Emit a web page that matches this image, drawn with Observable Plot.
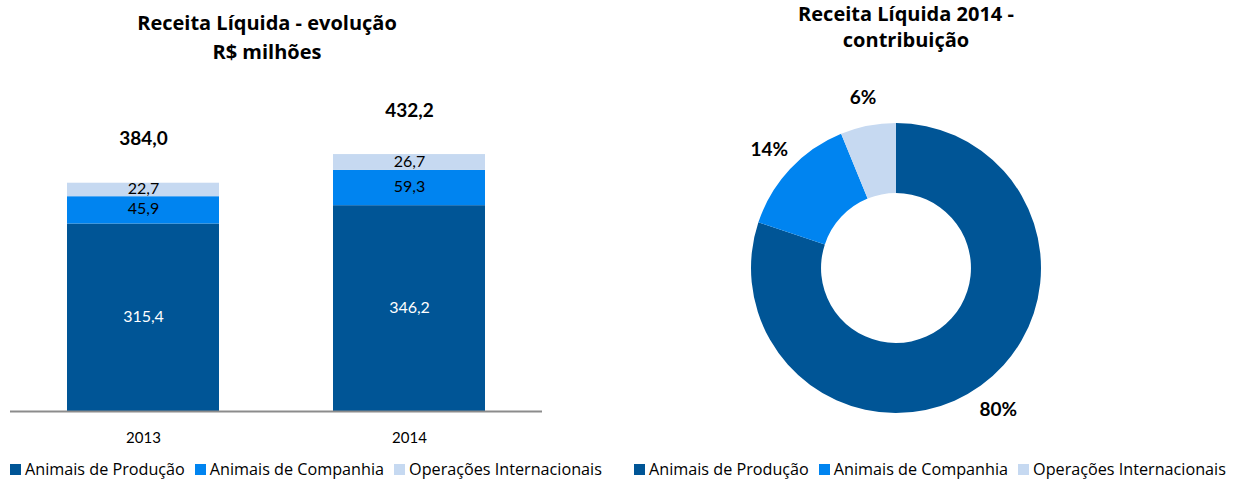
<!DOCTYPE html>
<html><head><meta charset="utf-8">
<script src="https://cdn.jsdelivr.net/npm/d3@7"></script>
<script src="https://cdn.jsdelivr.net/npm/@observablehq/plot@0.6"></script>
<style>
body{margin:0;background:#fff;font-family:Lato, sans-serif;}
#root{position:relative;width:1241px;height:479px;overflow:hidden;background:#fff}
.title{position:absolute;font-family:"Open Sans",sans-serif;font-weight:bold;font-size:20px;text-align:center;color:#000;width:400px}
.legend{position:absolute;display:flex;align-items:center;font-family:"Open Sans",sans-serif;font-size:16.2px;color:#000;white-space:nowrap;height:20px}
.legend .sw{width:11px;height:11px;margin-right:4px;display:inline-block}
.legend .item{display:flex;align-items:center;margin-right:10px}
.chart{position:absolute;top:0}
</style></head><body><div id="root"></div>
<script>
const years = ["2013", "2014"];
const segments = ["Animais de Produção", "Animais de Companhia", "Operações Internacionais"];
const producao = [315.4, 346.2];
const companhia = [45.9, 59.3];
const internacionais = [22.7, 26.7];
const totals = [384.0, 432.2];
const colors = ["#005596", "#0084F0", "#C6D9F1"];
const leftTitle = ["Receita Líquida - evolução", "R$ milhões"];
const rightTitle = ["Receita Líquida 2014 -", "contribuição"];
const donutYear = "2014";

const series = [producao, companhia, internacionais];
const locale = d3.formatLocale({decimal: ",", thousands: ".", grouping: [3], currency: ["R$", ""], percent: "%"});
const fmt = locale.format(".1f");
const pct = locale.format(".0%");

const rows = [];
years.forEach((y, i) => segments.forEach((s, j) => rows.push({year: y, segment: s, value: series[j][i], color: colors[j]})));
const totalRows = years.map((y, i) => ({year: y, total: totals[i]}));

const root = document.getElementById("root");

// Left: stacked bars
const left = Plot.plot({
  width: 560, height: 440,
  marginLeft: 10, marginRight: 18, marginTop: 113.75, marginBottom: 29,
  x: {domain: years, paddingInner: 0.4286, paddingOuter: 0.213, label: null},
  y: {domain: [0, 500], axis: null},
  color: {type: "identity"},
  style: {fontFamily: "Lato, sans-serif", fontSize: "15px", background: "white", overflow: "visible", color: "#000"},
  marks: [
    Plot.barY(rows, {x: "year", y: "value", z: "segment", fill: "color", order: segments}),
    Plot.text(rows, Plot.stackY({x: "year", y: "value", z: "segment", order: segments, text: d => fmt(d.value),
      fill: d => d.segment === segments[0] ? "white" : "#000", fontSize: 16, dy: -1})),
    Plot.text(totalRows, {x: "year", y: "total", text: d => fmt(d.total), dy: -44, fontWeight: "bold", fontSize: 19, fill: "#000"}),
    Plot.ruleY([0], {stroke: "#8c8c8c", strokeWidth: 2}),
    Plot.axisX({tickSize: 0, tickPadding: 21, fontSize: 15, label: null, fill: "#000"})
  ]
});
left.classList.add("chart");
left.style.left = "0px";
root.appendChild(left);

// Right: donut
const di = years.indexOf(donutYear);
const pieData = segments.map((s, j) => ({segment: s, value: series[j][di], color: colors[j]}));
const sum = d3.sum(pieData, d => d.value);
const arcs = d3.pie().sort(null).value(d => d.value)(pieData);
const labels = arcs.map(a => {
  const m = (a.startAngle + a.endAngle) / 2;
  return {x: Math.sin(m) * 1.2, y: Math.cos(m) * 1.2, text: pct(a.data.value / sum)};
});
const right = Plot.plot({
  width: 621, height: 440, margin: 0,
  x: {domain: [-1, 1], range: [276 - 145, 276 + 145], axis: null},
  y: {domain: [-1, 1], range: [268 + 145, 268 - 145], axis: null},
  style: {fontFamily: "Lato, sans-serif", background: "white", overflow: "visible"},
  marks: [
    (index, scales) => {
      const cx = scales.x(0), cy = scales.y(0), R = scales.x(1) - cx;
      const arc = d3.arc().innerRadius(R * 0.517).outerRadius(R);
      const g = d3.create("svg:g").attr("transform", `translate(${cx},${cy})`);
      g.selectAll("path").data(arcs).join("path").attr("d", arc).attr("fill", d => d.data.color);
      return g.node();
    },
    Plot.text(labels, {x: "x", y: "y", text: "text", fontWeight: "bold", fontSize: 19, fill: "#000"})
  ]
});
right.classList.add("chart");
right.style.left = "620px";
root.appendChild(right);

// Titles: line centres given by each line's box
function addTitle(lines, cx, top, lh) {
  const d = document.createElement("div");
  d.className = "title";
  d.style.left = (cx - 200) + "px";
  d.style.top = top + "px";
  d.innerHTML = lines.map((l, i) => `<div style="line-height:${lh[i]}px">${l}</div>`).join("");
  root.appendChild(d);
}
addTitle(leftTitle, 267, 8, [30, 28]);
addTitle(rightTitle, 906, 0, [28, 24]);

// Legends
function addLegend(x, cy) {
  const d = document.createElement("div");
  d.className = "legend";
  d.style.left = x + "px";
  d.style.top = (cy - 10) + "px";
  segments.forEach((s, j) => {
    const it = document.createElement("span");
    it.className = "item";
    it.innerHTML = `<span class="sw" style="background:${colors[j]}"></span><span>${s}</span>`;
    d.appendChild(it);
  });
  root.appendChild(d);
}
addLegend(10, 469);
addLegend(634, 469);
</script></body></html>
